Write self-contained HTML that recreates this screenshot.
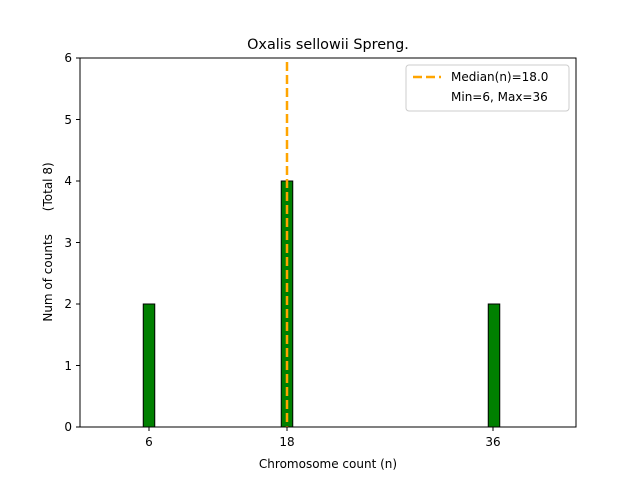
<!DOCTYPE html>
<html><head><style>body{margin:0;background:#fff}</style></head><body>
<svg width="640" height="480" xmlns="http://www.w3.org/2000/svg" font-family="DejaVu Sans, sans-serif">
<rect width="640" height="480" fill="#fff"/>
<text x="328" y="49" font-size="14.4" text-anchor="middle">Oxalis sellowii Spreng.</text>
<!-- bars -->
<rect x="143.25" y="304" width="11.5" height="123" fill="green" stroke="#000" stroke-width="1"/>
<rect x="281.25" y="181" width="11.5" height="246" fill="green" stroke="#000" stroke-width="1"/>
<rect x="488.25" y="304" width="11.5" height="123" fill="green" stroke="#000" stroke-width="1"/>
<line x1="80" y1="427" x2="533" y2="427" stroke="#000" stroke-width="1"/>
<!-- median -->
<line x1="287" y1="62" x2="287" y2="427" stroke="orange" stroke-width="2.5" stroke-dasharray="9,4"/>
<!-- axes -->
<rect x="80" y="58" width="496" height="369" fill="none" stroke="#000" stroke-width="1"/>
<g stroke="#000" stroke-width="1">
<line x1="149" y1="427" x2="149" y2="431"/>
<line x1="287" y1="427" x2="287" y2="431"/>
<line x1="493" y1="427" x2="493" y2="431"/>
<line x1="76" y1="427" x2="80" y2="427"/>
<line x1="76" y1="365.5" x2="80" y2="365.5"/>
<line x1="76" y1="304" x2="80" y2="304"/>
<line x1="76" y1="242.5" x2="80" y2="242.5"/>
<line x1="76" y1="181" x2="80" y2="181"/>
<line x1="76" y1="119.5" x2="80" y2="119.5"/>
<line x1="76" y1="58" x2="80" y2="58"/>
</g>
<g font-size="12" text-anchor="middle">
<text x="149" y="446">6</text>
<text x="287" y="446">18</text>
<text x="493" y="446">36</text>
<text x="328" y="468">Chromosome count (n)</text>
</g>
<g font-size="12" text-anchor="end">
<text x="72" y="431">0</text>
<text x="72" y="370">1</text>
<text x="72" y="308">2</text>
<text x="72" y="247">3</text>
<text x="72" y="185">4</text>
<text x="72" y="124">5</text>
<text x="72" y="62">6</text>
</g>
<text transform="translate(52,242) rotate(-90)" font-size="12" text-anchor="middle" xml:space="preserve">Num of counts      (Total 8)</text>
<!-- legend -->
<rect x="406" y="65" width="163" height="46" rx="3" fill="#fff" stroke="#ccc" stroke-width="1"/>
<line x1="413" y1="77" x2="441" y2="77" stroke="orange" stroke-width="2.5" stroke-dasharray="9,4"/>
<text x="451" y="81" font-size="12">Median(n)=18.0</text>
<text x="451" y="101" font-size="12">Min=6, Max=36</text>
</svg>
</body></html>
